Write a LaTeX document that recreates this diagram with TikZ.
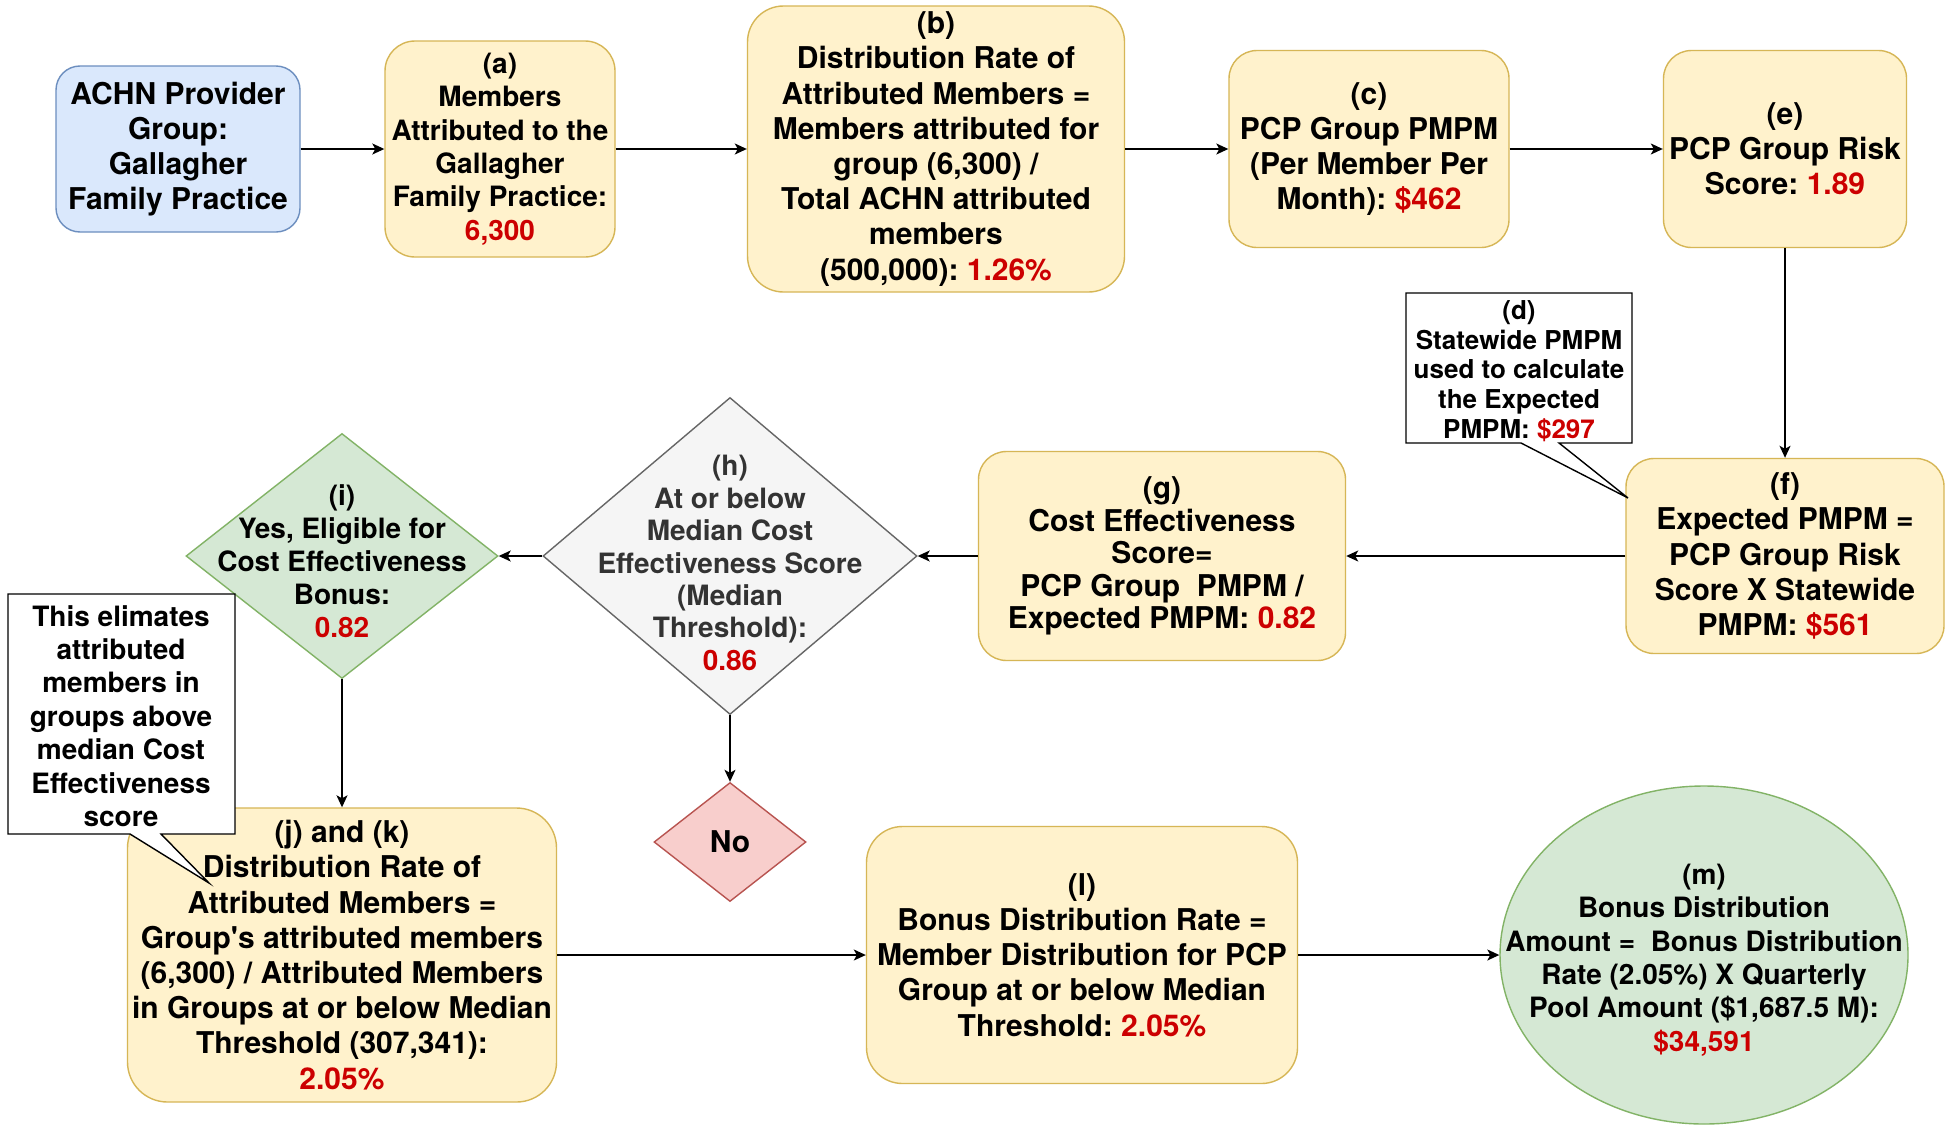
\documentclass[tikz,border=0pt]{standalone}
\usepackage{fontspec}
\setmainfont{TeX Gyre Heros}
\usetikzlibrary{arrows.meta,shapes.geometric}
\definecolor{yfill}{HTML}{FFF2CC}
\definecolor{yline}{HTML}{D6B656}
\definecolor{bfill}{HTML}{DAE8FC}
\definecolor{bline}{HTML}{6C8EBF}
\definecolor{gfill}{HTML}{D5E8D4}
\definecolor{gline}{HTML}{82B366}
\definecolor{hfill}{HTML}{F5F5F5}
\definecolor{hline}{HTML}{666666}
\definecolor{htext}{HTML}{333333}
\definecolor{rfill}{HTML}{F8CECC}
\definecolor{rline}{HTML}{B85450}
\definecolor{valred}{HTML}{CC0000}
\newcommand{\rv}[1]{\textcolor{valred}{#1}}
\frenchspacing
\begin{document}
\begin{tikzpicture}[x=0.5pt,y=-0.5pt,
  fa/.style={font=\fontsize{15}{17.6}\selectfont\bfseries},
  fb/.style={font=\fontsize{14}{16.7}\selectfont\bfseries},
  fc/.style={font=\fontsize{13}{14.8}\selectfont\bfseries},
  ybox/.style={rectangle, draw=yline, fill=yfill, line width=0.7pt, inner sep=0pt, align=center, fa},
  bbox/.style={rectangle, draw=bline, fill=bfill, line width=0.7pt, inner sep=0pt, align=center, fa},
  dia/.style={diamond, line width=0.7pt, inner sep=0pt},
  txt/.style={align=center, inner sep=0pt},
  note/.style={draw=black, fill=white, line width=0.7pt},
  conn/.style={-{Stealth[length=6pt,width=5.5pt,inset=1.5pt]}, line width=0.75pt, draw=black}]
\clip (0,0) rectangle (1947,1124);
\fill[white] (0,0) rectangle (1947,1124);

% row 1
\node[bbox, rounded corners=12pt, minimum width=122pt, minimum height=83pt] (achn) at (178,149)
  {ACHN Provider\\Group:\\Gallagher\\Family Practice};
\node[ybox, fb, rounded corners=15pt, minimum width=115pt, minimum height=108pt] (a) at (500,149)
  {(a)\\Members\\Attributed to the\\Gallagher\\Family Practice:\\\rv{6,300}};
\node[ybox, rounded corners=18pt, minimum width=188.5pt, minimum height=143pt] (b) at (936,149)
  {(b)\\Distribution Rate of\\Attributed Members =\\Members attributed for\\group (6,300) /\\Total ACHN attributed\\members\\(500,000): \rv{1.26\%}};
\node[ybox, rounded corners=14pt, minimum width=140pt, minimum height=98.5pt] (c) at (1369,149)
  {(c)\\PCP Group PMPM\\(Per Member Per\\Month): \rv{\$462}};
\node[ybox, rounded corners=14pt, minimum width=121.5pt, minimum height=98.5pt] (e) at (1785,149)
  {(e)\\PCP Group Risk\\Score: \rv{1.89}};

% row 2
\node[ybox, rounded corners=14pt, minimum width=159pt, minimum height=97.5pt] (f) at (1785,556)
  {(f)\\Expected PMPM =\\PCP Group Risk\\Score X Statewide\\PMPM: \rv{\$561}};
\node[ybox, font=\fontsize{15}{16.3}\selectfont\bfseries, rounded corners=14pt, minimum width=183.5pt, minimum height=104.5pt] (g) at (1162,556)
  {(g)\\Cost Effectiveness\\Score=\\PCP Group\ \ PMPM /\\Expected PMPM: \rv{0.82}};
\node[dia, draw=hline, fill=hfill, minimum width=187pt, minimum height=158.5pt] (h) at (730,556) {};
\node[txt, fb, text=htext, font=\fontsize{14}{16.2}\selectfont\bfseries] (htxt) at (730,563)
  {(h)\\At or below\\Median Cost\\Effectiveness Score\\(Median\\Threshold):\\\rv{0.86}};
\node[dia, draw=gline, fill=gfill, minimum width=156pt, minimum height=122.5pt] (i) at (342,556) {};
\node[txt, fb, font=\fontsize{14}{16.5}\selectfont\bfseries] (itxt) at (342,561)
  {(i)\\Yes, Eligible for\\Cost Effectiveness\\Bonus:\\\rv{0.82}};
\node[dia, draw=rline, fill=rfill, minimum width=76pt, minimum height=59.5pt] (no) at (730,842) {};
\node[txt, fa] (notxt) at (730,842) {No};

% row 3
\node[ybox, rounded corners=20pt, minimum width=214.5pt, minimum height=147pt] (j) at (342,955)
  {(j) and (k)\\Distribution Rate of\\Attributed Members =\\Group\textquotesingle s attributed members\\(6,300) / Attributed Members\\in Groups at or below Median\\Threshold (307,341):\\\rv{2.05\%}};
\node[ybox, rounded corners=18pt, minimum width=215.5pt, minimum height=128.5pt] (l) at (1082,955)
  {(l)\\Bonus Distribution Rate =\\Member Distribution for PCP\\Group at or below Median\\Threshold: \rv{2.05\%}};
\node[ellipse, draw=gline, fill=gfill, line width=0.7pt, inner sep=0pt, minimum width=204pt, minimum height=169pt] (m) at (1704,955) {};
\node[txt, fb] (mtxt) at (1704,960)
  {(m)\\Bonus Distribution\\Amount =\ \ Bonus Distribution\\Rate (2.05\%) X Quarterly\\Pool Amount (\$1,687.5 M):\\\rv{\$34,591}};

% callout (d)
\coordinate (dtip) at (1628,498);
\draw[note] (1406,293) -- (1632,293) -- (1632,443) -- (1559,443) -- (dtip) -- (1521,443) -- (1406,443) -- cycle;
\node[txt, fc] (d) at (1519,371)
  {(d)\\Statewide PMPM\\used to calculate\\the Expected\\PMPM: \rv{\$297}};

% callout on (j)
\coordinate (ntip) at (209,883);
\draw[note] (8,594) -- (235,594) -- (235,834) -- (161,834) -- (ntip) -- (130,834) -- (8,834) -- cycle;
\node[txt, fb] (note2) at (121,716)
  {This elimates\\attributed\\members in\\groups above\\median Cost\\Effectiveness\\score};

% connectors
\draw[conn] (achn) -- (a);
\draw[conn] (a) -- (b);
\draw[conn] (b) -- (c);
\draw[conn] (c) -- (e);
\draw[conn] (e) -- (f);
\draw[conn] (f) -- (g);
\draw[conn] (g) -- (h);
\draw[conn] (h) -- (i);
\draw[conn] (h) -- (no);
\draw[conn] (i) -- (j);
\draw[conn] (j) -- (l);
\draw[conn] (l) -- (m);
\end{tikzpicture}
\end{document}
